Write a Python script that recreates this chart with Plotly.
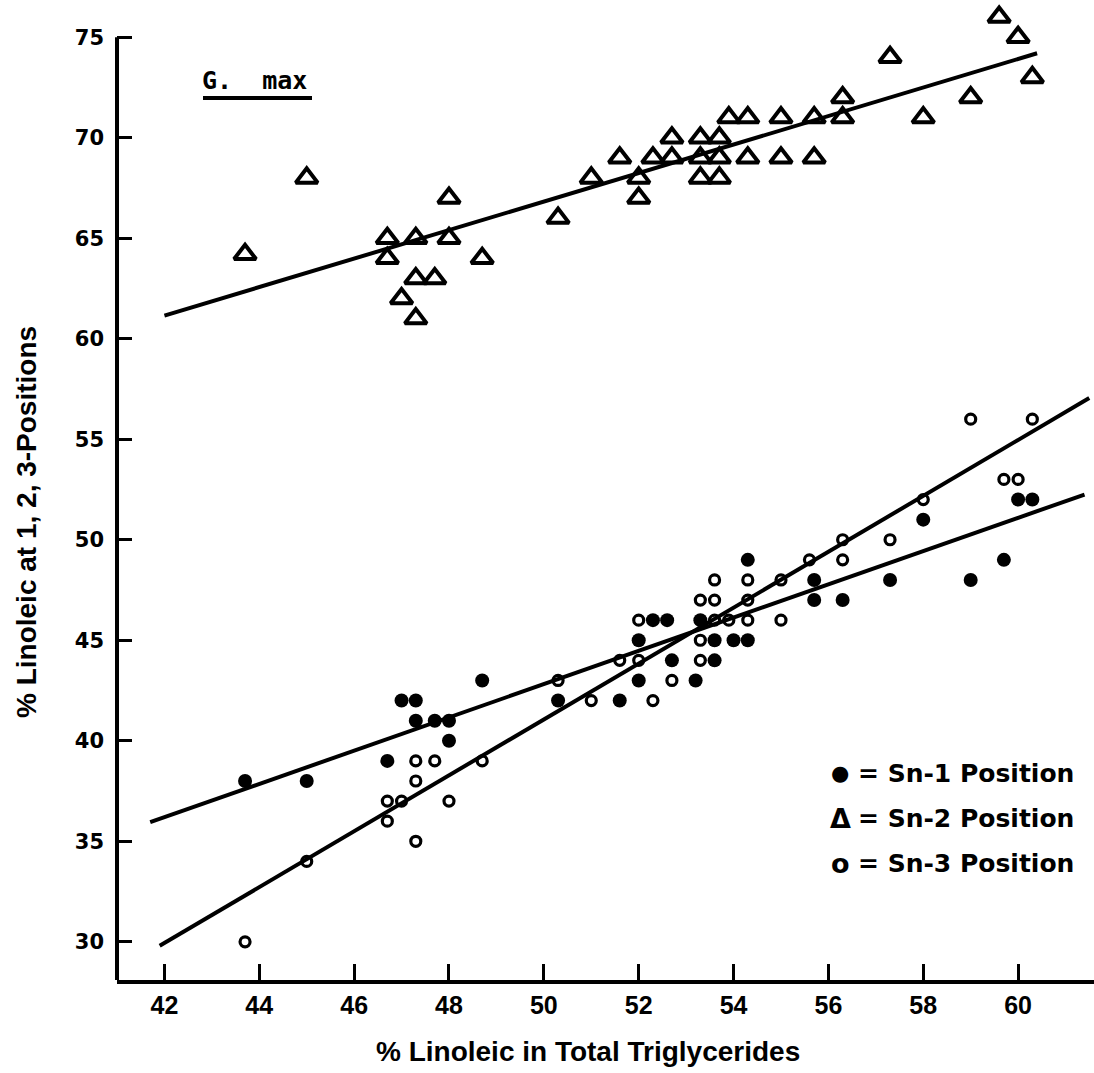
import plotly.graph_objects as go

# % linoleic in total triglycerides (x) and at each glycerol position (y)
sn1_x = [43.7, 45.0, 46.7, 47.0, 47.3, 47.3, 47.7, 48.0, 48.0, 48.7,
         50.3, 51.6, 52.0, 52.0, 52.3, 52.6, 52.7, 53.2, 53.3, 53.6, 53.6,
         54.0, 54.3, 54.3, 55.7, 55.7, 56.3, 57.3, 58.0, 59.0, 59.7, 60.0, 60.3]
sn1_y = [38, 38, 39, 42, 42, 41, 41, 41, 40, 43,
         42, 42, 45, 43, 46, 46, 44, 43, 46, 44, 45,
         45, 45, 49, 48, 47, 47, 48, 51, 48, 49, 52, 52]

sn2_x = [43.7, 45.0, 46.7, 46.7, 47.0, 47.3, 47.3, 47.3, 47.7, 48.0, 48.0, 48.7,
         50.3, 51.0, 51.6, 52.0, 52.0, 52.3, 52.7, 52.7, 53.3, 53.3, 53.3,
         53.7, 53.7, 53.7, 53.9, 54.3, 54.3, 55.0, 55.0, 55.7, 55.7, 56.3, 56.3,
         57.3, 58.0, 59.0, 59.6, 60.0, 60.3]
sn2_y = [64.2, 68, 65, 64, 62, 65, 63, 61, 63, 67, 65, 64,
         66, 68, 69, 68, 67, 69, 70, 69, 70, 69, 68,
         70, 69, 68, 71, 71, 69, 71, 69, 71, 69, 72, 71,
         74, 71, 72, 76, 75, 73]

sn3_x = [43.7, 45.0, 46.7, 46.7, 47.0, 47.3, 47.3, 47.3, 47.7, 48.0, 48.7,
         50.3, 51.0, 51.6, 52.0, 52.0, 52.3, 52.7, 53.3, 53.3, 53.3, 53.6, 53.6,
         53.6, 53.9, 54.3, 54.3, 54.3, 55.0, 55.0, 55.6, 56.3, 56.3, 57.3, 58.0,
         59.0, 59.7, 60.0, 60.3]
sn3_y = [30, 34, 37, 36, 37, 39, 38, 35, 39, 37, 39,
         43, 42, 44, 44, 46, 42, 43, 44, 45, 47, 46, 47,
         48, 46, 46, 47, 48, 46, 48, 49, 49, 50, 50, 52,
         56, 53, 53, 56]

# regression lines (end points)
sn1_fit_x = [41.7, 61.4]
sn1_fit_y = [35.95, 52.25]
sn2_fit_x = [42.0, 60.4]
sn2_fit_y = [61.15, 74.2]
sn3_fit_x = [41.9, 61.5]
sn3_fit_y = [29.8, 57.05]

x_ticks = [42, 44, 46, 48, 50, 52, 54, 56, 58, 60]
y_ticks = [30, 35, 40, 45, 50, 55, 60, 65, 70, 75]

# axis frame: the y axis stops at 75, the plotting area reaches the top edge
Y_MIN, Y_AXIS_TOP, Y_MAX = 28.1, 75, 76.8
X_MIN, X_MAX = 41.0, 61.6

W, H = 1094, 1073
PX_PER_Y = 20.1
ML, MR, MB = 117, 0, 93
MT = max(0, round(H - MB - (Y_MAX - Y_MIN) * PX_PER_Y))
PW, PH = W - ML - MR, H - MT - MB


def px(x):
    return (x - ML) / PW


def py(y):
    return (H - MB - y) / PH


fig = go.Figure()

for fx, fy in [(sn1_fit_x, sn1_fit_y), (sn2_fit_x, sn2_fit_y), (sn3_fit_x, sn3_fit_y)]:
    fig.add_trace(go.Scatter(x=fx, y=fy, mode="lines",
                             line=dict(color="black", width=4),
                             hoverinfo="skip"))

fig.add_trace(go.Scatter(x=sn1_x, y=sn1_y, mode="markers", name="Sn-1",
                         marker=dict(symbol="circle", size=14, color="black",
                                     line=dict(width=0))))
fig.add_trace(go.Scatter(x=sn3_x, y=sn3_y, mode="markers", name="Sn-3",
                         marker=dict(symbol="circle-open", size=10, color="black",
                                     line=dict(width=3.2))))
fig.add_trace(go.Scatter(x=sn2_x, y=sn2_y, mode="markers", name="Sn-2",
                         marker=dict(symbol="triangle-up-open", size=19, color="black",
                                     line=dict(width=4))))

narrow = "Liberation Sans, Arial, sans-serif"
wide = "DejaVu Sans, Liberation Sans, sans-serif"

fig.update_xaxes(range=[X_MIN, X_MAX], tickvals=x_ticks, ticktext=[str(v) for v in x_ticks],
                 ticks="inside", ticklen=16, tickwidth=3, tickcolor="black",
                 showline=True, linecolor="black", linewidth=4, showgrid=False,
                 zeroline=False, ticklabelstandoff=0,
                 tickfont=dict(family=narrow, size=25, color="black", weight="bold"))
fig.update_yaxes(range=[Y_MIN, Y_MAX], tickvals=y_ticks, ticktext=[str(v) for v in y_ticks],
                 ticks="inside", ticklen=15, tickwidth=3, tickcolor="black",
                 showline=False, showgrid=False,
                 zeroline=False, ticklabelstandoff=12,
                 tickfont=dict(family=wide, size=21, color="black", weight="bold"))

annotations = [
    dict(text="<b>% Linoleic in Total Triglycerides</b>", x=px(588), y=py(1051),
         xref="paper", yref="paper",
         xanchor="center", yanchor="middle", showarrow=False,
         font=dict(family=narrow, size=28, color="black")),
    dict(text="<b>% Linoleic at 1, 2, 3-Positions</b>", x=px(26), y=py(522),
         xref="paper", yref="paper",
         xanchor="center", yanchor="middle", textangle=-90, showarrow=False,
         font=dict(family=narrow, size=28, color="black")),
    dict(text="<b>G.\u00a0\u00a0max</b>", x=px(200), y=py(81),
         xref="paper", yref="paper",
         xanchor="left", yanchor="middle", showarrow=False,
         font=dict(family="DejaVu Sans Mono, Liberation Mono, monospace", size=25,
                   color="black")),
]

legend_rows = [("\u25cf", "= Sn-1 Position", 773, 21),
               ("\u0394", "= Sn-2 Position", 818, 27),
               ("o", "= Sn-3 Position", 863, 27)]
for sym, label, yy, ssize in legend_rows:
    annotations.append(dict(text="<b>" + sym + "</b>", x=px(840), y=py(yy),
                            xref="paper", yref="paper",
                            xanchor="center", yanchor="middle", showarrow=False,
                            font=dict(family=wide, size=ssize, color="black")))
    annotations.append(dict(text="<b>" + label + "</b>", x=px(856), y=py(yy),
                            xref="paper", yref="paper",
                            xanchor="left", yanchor="middle", showarrow=False,
                            font=dict(family=wide, size=25, color="black")))

shapes = [
    # y axis line, from the bottom of the frame up to the 75 tick
    dict(type="line", xref="paper", yref="y", x0=0, x1=0, y0=Y_MIN, y1=Y_AXIS_TOP,
         line=dict(color="black", width=4)),
    # underline below the species label
    dict(type="line", xref="paper", yref="paper",
         x0=px(203), x1=px(312), y0=py(98), y1=py(98),
         line=dict(color="black", width=4)),
]

fig.update_layout(
    width=W, height=H,
    margin=dict(l=ML, r=MR, t=MT, b=MB),
    plot_bgcolor="white", paper_bgcolor="white",
    showlegend=False,
    annotations=annotations,
    shapes=shapes,
)

fig.write_html("out.html")
